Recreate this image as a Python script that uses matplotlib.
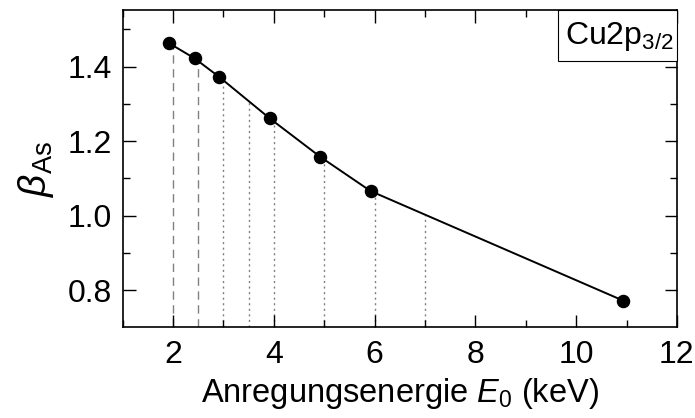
import matplotlib
matplotlib.use("Agg")
import matplotlib.pyplot as plt
from matplotlib.ticker import MultipleLocator
from matplotlib.patches import Rectangle

plt.rcParams['font.family'] = ['Liberation Sans', 'DejaVu Sans']
plt.rcParams['mathtext.fontset'] = 'custom'
plt.rcParams['mathtext.rm'] = 'Liberation Sans'
plt.rcParams['mathtext.it'] = 'Liberation Sans:italic'
plt.rcParams['mathtext.bf'] = 'Liberation Sans:bold'

# Data
energy = [1.92, 2.43, 2.92, 3.92, 4.92, 5.92, 10.93]
beta = [1.463, 1.422, 1.372, 1.261, 1.158, 1.066, 0.772]

dashed_x = [2.0, 2.5]
dashed_top = [1.460, 1.415]
dotted_x = [3.0, 3.5, 4.0, 5.0, 6.0, 7.0]
dotted_top = [1.366, 1.306, 1.255, 1.153, 1.063, 1.001]

xticks = [2, 4, 6, 8, 10, 12]
yticks = [0.8, 1.0, 1.2, 1.4]

fig = plt.figure(figsize=(6.95, 4.18), dpi=100)
ax = fig.add_axes([0.1765, 0.2177, 0.7975, 0.7583])

ymin = 0.701
ax.vlines(dashed_x, ymin, dashed_top, colors='#808080', linestyles=(0, (6, 4)), linewidth=1.0, zorder=1)
ax.vlines(dotted_x, ymin, dotted_top, colors='#808080', linestyles=(0, (1.5, 2.5)), linewidth=1.0, zorder=1)
ax.plot(energy, beta, color='black', linewidth=1.4, marker='o', markersize=8.7, zorder=3)

ax.set_xlim(1, 12)
ax.set_ylim(ymin, 1.552)
ax.set_xticks(xticks)
ax.set_yticks(yticks)
ax.set_yticklabels([f"{v:.1f}" for v in yticks])
ax.xaxis.set_minor_locator(MultipleLocator(1))
ax.yaxis.set_minor_locator(MultipleLocator(0.1))
ax.tick_params(which='both', direction='in', top=True, right=True, labelsize=23, width=1.0)
ax.tick_params(axis='x', pad=9)
ax.tick_params(axis='y', pad=8)
ax.tick_params(which='major', length=9)
ax.tick_params(which='minor', length=5)
for s in ax.spines.values():
    s.set_linewidth(1.2)

ax.set_xlabel(r"Anregungsenergie $E_{0}$ (keV)", fontsize=23.5, labelpad=5)
ax.set_ylabel(r"$\beta_{\mathrm{As}}$", fontsize=28, labelpad=8)

# label box upper right
bx0, by0 = 0.786, 0.84
ax.add_patch(Rectangle((bx0, by0), 1 - bx0, 1 - by0, transform=ax.transAxes,
                       facecolor='white', edgecolor='black', linewidth=0.8, zorder=4, clip_on=False))
ax.text((bx0 + 1) / 2 + 0.003, (by0 + 1) / 2 - 0.005, r"Cu2p$_{3/2}$", transform=ax.transAxes,
        ha='center', va='center', fontsize=23, zorder=5)

fig.savefig("out.png", dpi=100)
